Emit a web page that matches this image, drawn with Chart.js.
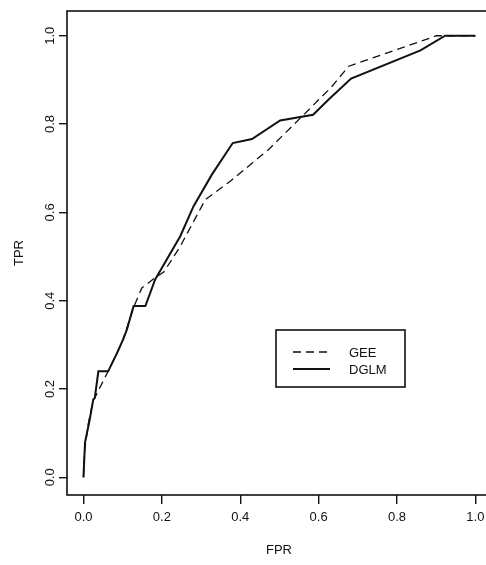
<!DOCTYPE html>
<html>
<head>
<meta charset="utf-8">
<script src="https://cdn.jsdelivr.net/npm/chart.js@4/dist/chart.umd.min.js"></script>
<style>
  html, body { margin: 0; padding: 0; background: #fff; overflow: hidden; }
  #wrap { width: 495px; height: 565px; position: relative; }
</style>
</head>
<body>
<div id="wrap"><canvas id="roc"></canvas></div>
<script>
// ROC curves, values
var geeFpr = [0, 0.003, 0.012, 0.025, 0.029, 0.061, 0.085, 0.101, 0.128, 0.149, 0.183, 0.205, 0.247, 0.311, 0.374, 0.472, 0.562, 0.600, 0.631, 0.677, 0.885, 0.900, 1.0];
var geeTpr = [0, 0.06, 0.12, 0.176, 0.18, 0.237, 0.28, 0.312, 0.385, 0.429, 0.452, 0.465, 0.523, 0.629, 0.670, 0.742, 0.821, 0.855, 0.882, 0.931, 0.995, 1.0, 1.0];

var dglmFpr = [0, 0.004, 0.016, 0.025, 0.029, 0.038, 0.063, 0.085, 0.101, 0.111, 0.128, 0.158, 0.183, 0.247, 0.281, 0.328, 0.381, 0.430, 0.502, 0.586, 0.625, 0.683, 0.860, 0.923, 1.0];
var dglmTpr = [0, 0.079, 0.131, 0.176, 0.18, 0.24, 0.24, 0.28, 0.312, 0.335, 0.388, 0.388, 0.448, 0.546, 0.614, 0.686, 0.757, 0.766, 0.808, 0.821, 0.855, 0.903, 0.967, 1.0, 1.0];

var xTicks = [0, 0.2, 0.4, 0.6, 0.8, 1.0];
var yTicks = [0, 0.2, 0.4, 0.6, 0.8, 1.0];

function toPoints(xs, ys) {
    return xs.map(function(x, i) { return {x: x, y: ys[i]}; });
}

var FONT = 'Liberation Sans, Arial, Helvetica, sans-serif';

// frame around the plot region
var boxPlugin = {
    id: 'box',
    afterDraw: function(chart) {
        var a = chart.chartArea, ctx = chart.ctx;
        ctx.save();
        ctx.strokeStyle = '#111';
        ctx.lineWidth = 1.6;
        ctx.strokeRect(a.left, a.top, a.right - a.left, a.bottom - a.top);
        ctx.restore();
    }
};

// R style legend box inside the plot
var legendBox = {
    id: 'legendBox',
    afterDraw: function(chart) {
        var ctx = chart.ctx;
        var x0 = 276, y0 = 330, w = 129, h = 57;
        ctx.save();
        ctx.strokeStyle = '#111';
        ctx.lineWidth = 1.6;
        ctx.strokeRect(x0, y0, w, h);
        ctx.font = '13px ' + FONT;
        ctx.fillStyle = '#111';
        ctx.textBaseline = 'middle';
        chart.data.datasets.forEach(function(ds, i) {
            var y = 352 + i * 17;
            ctx.beginPath();
            ctx.lineWidth = ds.borderWidth;
            ctx.setLineDash(ds.borderDash || []);
            ctx.moveTo(293, y);
            ctx.lineTo(330, y);
            ctx.stroke();
            ctx.setLineDash([]);
            ctx.fillText(ds.label, 349, y + 1);
        });
        ctx.restore();
    }
};

var ctx = document.getElementById('roc').getContext('2d');
var chart = new Chart(ctx, {
    type: 'line',
    data: {
        datasets: [{
            label: 'GEE',
            data: toPoints(geeFpr, geeTpr),
            borderColor: '#111',
            borderWidth: 1.3,
            borderDash: [8, 5],
            pointRadius: 0,
            tension: 0,
            fill: false
        }, {
            label: 'DGLM',
            data: toPoints(dglmFpr, dglmTpr),
            borderColor: '#111',
            borderWidth: 2,
            pointRadius: 0,
            tension: 0,
            fill: false
        }]
    },
    options: {
        responsive: true,
        maintainAspectRatio: false,
        animation: false,
        layout: { padding: { top: 11, right: 4, left: 0, bottom: 0 } },
        plugins: {
            legend: { display: false },
            tooltip: { enabled: false }
        },
        scales: {
            x: {
                type: 'linear',
                min: -0.042,
                max: 1.04,
                afterBuildTicks: function(s) { s.ticks = xTicks.map(function(v) { return {value: v}; }); },
                afterFit: function(s) { s.height = 70; },
                border: { display: false },
                grid: { drawOnChartArea: false, drawTicks: true, tickLength: 9, color: '#111', lineWidth: 1.4 },
                ticks: {
                    color: '#111',
                    font: { family: FONT, size: 13 },
                    padding: 6,
                    maxRotation: 0,
                    callback: function(v) { return v.toFixed(1); }
                },
                title: { display: true, text: 'FPR', color: '#111', font: { family: FONT, size: 13 }, padding: { bottom: 7 } }
            },
            y: {
                type: 'linear',
                min: -0.04,
                max: 1.056,
                afterBuildTicks: function(s) { s.ticks = yTicks.map(function(v) { return {value: v}; }); },
                afterFit: function(s) { s.width = 67; },
                border: { display: false },
                grid: { drawOnChartArea: false, drawTicks: true, tickLength: 8, color: '#111', lineWidth: 1.4 },
                ticks: {
                    color: '#111',
                    font: { family: FONT, size: 13 },
                    padding: 0,
                    minRotation: 90,
                    maxRotation: 90,
                    crossAlign: 'center',
                    callback: function(v) { return v.toFixed(1); }
                },
                title: { display: true, text: 'TPR', color: '#111', font: { family: FONT, size: 13 }, padding: { top: 12 } }
            }
        }
    },
    plugins: [boxPlugin, legendBox]
});
</script>
</body>
</html>
